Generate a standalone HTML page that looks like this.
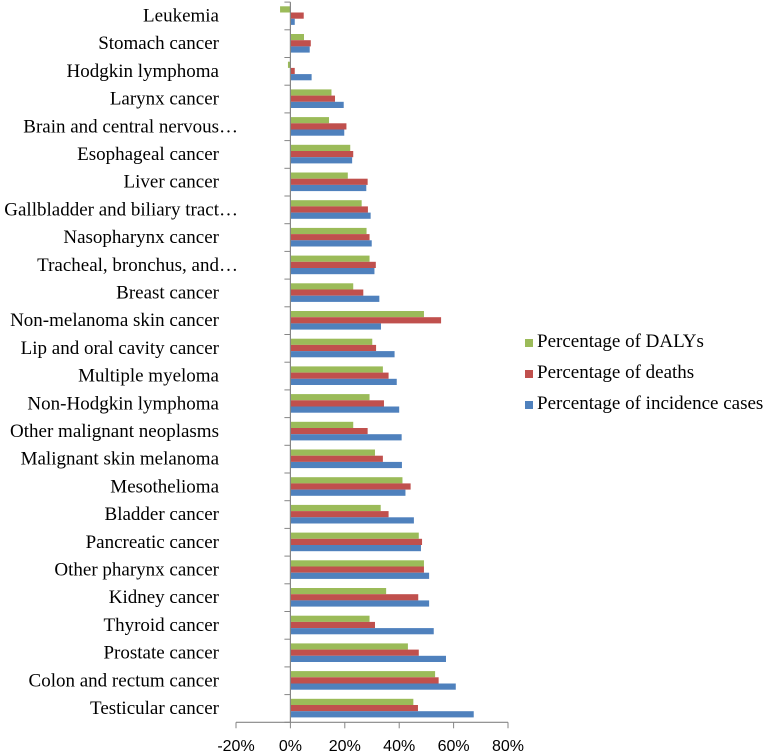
<!DOCTYPE html>
<html><head><meta charset="utf-8"><style>
html,body{margin:0;padding:0;background:#fff;}
svg{display:block;font-family:"Liberation Serif","DejaVu Serif",serif;}
</style></head><body>
<svg id="chart" width="768" height="756" viewBox="0 0 768 756"></svg>
<script>
const categories=["Leukemia","Stomach cancer","Hodgkin lymphoma","Larynx cancer","Brain and central nervous…","Esophageal cancer","Liver cancer","Gallbladder and biliary tract…","Nasopharynx cancer","Tracheal, bronchus, and…","Breast cancer","Non-melanoma skin cancer","Lip and oral cavity cancer","Multiple myeloma","Non-Hodgkin lymphoma","Other malignant neoplasms","Malignant skin melanoma","Mesothelioma","Bladder cancer","Pancreatic cancer","Other pharynx cancer","Kidney cancer","Thyroid cancer","Prostate cancer","Colon and rectum cancer","Testicular cancer"];
const dalys=[-3.8,5.0,-0.9,15.1,14.2,22.0,21.1,26.2,28.0,29.1,23.1,49.1,30.1,34.0,29.1,23.1,31.1,41.2,33.2,47.2,49.1,35.2,29.1,43.2,53.2,45.2];
const deaths=[4.9,7.5,1.6,16.4,20.6,23.1,28.4,28.5,29.1,31.4,26.8,55.4,31.5,36.1,34.4,28.4,34.0,44.2,36.1,48.4,49.1,47.0,31.1,47.2,54.5,46.9];
const incidence=[1.6,7.1,7.8,19.6,19.8,22.7,27.9,29.5,29.9,30.9,32.7,33.3,38.3,39.1,40.0,40.9,41.0,42.3,45.4,48.0,51.0,51.0,52.7,57.2,60.8,67.4];
const xTicks=[-20,0,20,40,60,80];
const seriesNames=["Percentage of DALYs","Percentage of deaths","Percentage of incidence cases"];
const colors=["#9bbb59","#c0504d","#4f81bd"];

const svg=document.getElementById('chart');
const NS="http://www.w3.org/2000/svg";
const x0=236.0,x1=508.0,xmin=-20,xmax=80;
const plotTop=2.1,plotBottom=722.3;
const band=(plotBottom-plotTop)/categories.length;
const X=v=>x0+(v-xmin)/(xmax-xmin)*(x1-x0);
const Y=i=>plotTop+i*band;
function mk(tag,attrs){const e=document.createElementNS(NS,tag);for(const k in attrs)e.setAttribute(k,attrs[k]);svg.appendChild(e);return e;}

const series=[dalys,deaths,incidence];
const barH=6.2,off=4.2;
for(let i=0;i<categories.length;i++){
  for(let s=0;s<3;s++){
    const v=series[s][i];
    const xa=X(Math.min(0,v)),xb=X(Math.max(0,v));
    const r=mk('rect',{x:xa,y:Y(i)+off+s*barH,width:Math.max(0.5,xb-xa),height:barH,fill:colors[s]});
    
    
  }
  const lx=categories[i].endsWith('…')?238:219;
  const t=mk('text',{x:lx,y:Y(i)+band/2+5.5,'text-anchor':'end','font-size':'19',fill:'#000'});
  t.textContent=categories[i];
  
  
}
const ya=mk('line',{x1:X(0),y1:plotTop,x2:X(0),y2:plotBottom,stroke:'#868686','stroke-width':1.2});


for(let i=0;i<=categories.length;i++){
  const tk=mk('line',{x1:X(0)-6,y1:Y(i),x2:X(0),y2:Y(i),stroke:'#868686','stroke-width':1});
  
  
}
const xAxis=mk('line',{x1:x0,y1:plotBottom,x2:x1,y2:plotBottom,stroke:'#868686','stroke-width':1.2});


for(const v of xTicks){
  const tk=mk('line',{x1:X(v),y1:plotBottom,x2:X(v),y2:plotBottom+6,stroke:'#868686','stroke-width':1});
  
  
  const t=mk('text',{x:X(v),y:751,'text-anchor':'middle','font-size':'16',fill:'#000','font-family':'Liberation Sans, sans-serif'});
  t.textContent=v+'%';
  
  
}
const ly=[347,378,409];
for(let s=0;s<3;s++){
  const r=mk('rect',{x:525,y:ly[s]-8,width:8,height:8,fill:colors[s]});
  
  
  const t=mk('text',{x:537,y:ly[s],'font-size':'19',fill:'#000'});
  t.textContent=seriesNames[s];
  
  
}
</script>
</body></html>
